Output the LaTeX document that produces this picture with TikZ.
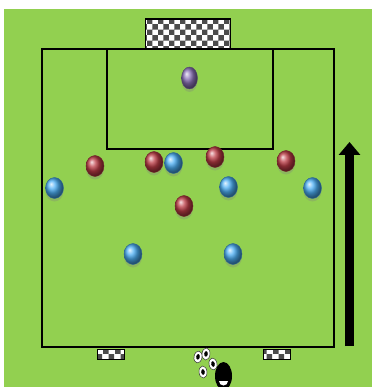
\documentclass[tikz,border=0pt]{standalone}
\usepackage{xcolor}
\definecolor{pitchgreen}{RGB}{146,208,80}
\definecolor{teamblue}{RGB}{75,175,245}
\definecolor{teamred}{RGB}{190,60,70}
\definecolor{keeperpurple}{RGB}{140,115,185}
\usetikzlibrary{arrows.meta,positioning,shapes.geometric,patterns,shadows}

\begin{document}
\begin{tikzpicture}[x=1pt,y=-1pt,
  player/.style={ellipse,minimum width=18pt,minimum height=21pt,inner sep=0pt,
    draw=#1!60!black,line width=0.4pt,shading=ball,ball color=#1,
    drop shadow={shadow xshift=0pt,shadow yshift=-3pt,opacity=0.3}},
  goalnet/.style={draw=black,line width=1.4pt,preaction={fill=white},
    pattern=checkerboard,pattern color=black!70,inner sep=0pt},
  ball/.style={ellipse,minimum width=8pt,minimum height=12pt,inner sep=0pt,
    fill=white,draw=black!80,line width=0.5pt,
    path picture={\fill[black] (path picture bounding box.center) ellipse (1.8pt and 2.8pt);}},
  coachbody/.style={ellipse,fill=black,minimum width=17pt,minimum height=28pt,inner sep=0pt}
]
  \fill[white] (0,0) rectangle (374,387);
  \fill[pitchgreen] (4,9) rectangle (372,387);
  \useasboundingbox (0,0) rectangle (374,387);

  \node[goalnet,minimum width=85pt,minimum height=30pt] (topgoal) at (188,34) {};
  \draw[line width=1.4pt] (42,49) rectangle (334,347);
  \draw[line width=1.4pt] (107,49) rectangle (273,149);
  \node[goalnet,line width=1pt,minimum width=27pt,minimum height=10pt] (leftgoal) at (110.5,354.5) {};
  \node[goalnet,line width=1pt,minimum width=27pt,minimum height=10pt] (rightgoal) at (277,354.5) {};

  \node[player=keeperpurple,minimum width=16pt,minimum height=22pt] (keeper) at (189.5,78) {};

  \node[player=teamred] (red1) at (95,166) {};
  \node[player=teamred] (red2) at (154,162) {};
  \node[player=teamred] (red3) at (215,157) {};
  \node[player=teamred] (red4) at (286,161) {};
  \node[player=teamred] (red5) at (184,206) {};

  \node[player=teamblue] (blue1) at (54.5,188) {};
  \node[player=teamblue] (blue2) at (173.5,163) {};
  \node[player=teamblue] (blue3) at (228.5,187) {};
  \node[player=teamblue] (blue4) at (312.5,188) {};
  \node[player=teamblue] (blue5) at (133,254) {};
  \node[player=teamblue] (blue6) at (233,254) {};

  \coordinate (runstart) at (349.5,346);
  \coordinate (runend) at (349.5,142);
  \draw[line width=9pt,-{Triangle[length=13pt,width=21pt]}] (runstart) -- (runend);

  \node[ball,rotate=-10] (ball1) at (198,357) {};
  \node[ball,rotate=-5] (ball2) at (206,354) {};
  \node[ball,rotate=10] (ball3) at (213,364) {};
  \node[ball,rotate=5] (ball4) at (203,372) {};

  \node[coachbody] (coach) at (223.5,376) {};
  \fill[white] (219,381) arc[start angle=180,end angle=0,radius=4.5] -- cycle;
\end{tikzpicture}
\end{document}
